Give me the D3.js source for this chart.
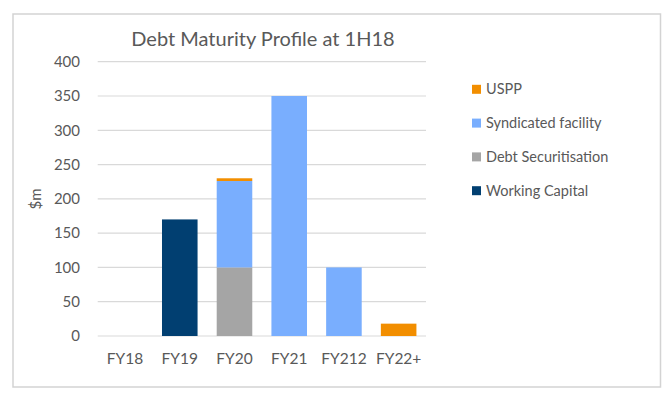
<!DOCTYPE html>
<html>
<head>
<meta charset="utf-8">
<script src="https://cdn.jsdelivr.net/npm/d3@7"></script>
<style>
  html, body { margin: 0; padding: 0; background: #fff; }
  svg { display: block; }
  text { font-family: Lato, "Open Sans", sans-serif; fill: #595959; }
</style>
</head>
<body>
<svg id="chart" width="663" height="394"></svg>
<script>
const categories = ["FY18", "FY19", "FY20", "FY21", "FY212", "FY22+"];
const workingCapital = [0, 170, 0, 0, 0, 0];
const debtSecuritisation = [0, 0, 100, 0, 0, 0];
const syndicatedFacility = [0, 0, 126, 350, 100, 0];
const uspp = [0, 0, 4, 0, 0, 18];
const seriesNames = ["Working Capital", "Debt Securitisation", "Syndicated facility", "USPP"];
const seriesColors = ["#013F71", "#A5A5A5", "#79AEFE", "#F28E00"];
const yTicks = [0, 50, 100, 150, 200, 250, 300, 350, 400];
const titleText = "Debt Maturity Profile at 1H18";
const yLabel = "$m";

(function () {
const seriesValues = [workingCapital, debtSecuritisation, syndicatedFacility, uspp];
const rows = categories.map((c, i) => {
  const r = { cat: c };
  seriesNames.forEach((s, j) => r[s] = seriesValues[j][i]);
  return r;
});
const stacked = d3.stack().keys(seriesNames)(rows);

const svg = d3.select("#chart");
const pLeft = 97.7, pRight = 426, pTop = 61.7, pBottom = 336;

svg.append("rect").attr("x", 13).attr("y", 14).attr("width", 647.5).attr("height", 373)
  .attr("fill", "none").attr("stroke", "#D3D3D3").attr("stroke-width", 1.5);

const x = d3.scaleBand().domain(categories).range([pLeft, pRight]).paddingInner(0.35).paddingOuter(0.175);
const y = d3.scaleLinear().domain([0, 400]).range([pBottom, pTop]);

svg.append("g").selectAll("line").data(yTicks).join("line")
  .attr("x1", pLeft).attr("x2", pRight)
  .attr("y1", d => y(d)).attr("y2", d => y(d))
  .attr("stroke", "#D9D9D9").attr("stroke-width", 1.2);

const yAxis = d3.axisLeft(y).tickValues(yTicks).tickSize(0).tickPadding(0);
const yg = svg.append("g").attr("transform", `translate(80,0)`).call(yAxis);
yg.select(".domain").remove();
yg.selectAll("text").attr("font-size", 15).attr("fill", "#595959").attr("font-family", "Lato, sans-serif");

svg.append("g").selectAll("g").data(stacked).join("g")
  .attr("fill", (d, i) => seriesColors[i])
  .selectAll("rect").data(d => d).join("rect")
  .attr("x", d => x(d.data.cat))
  .attr("width", x.bandwidth())
  .attr("y", d => y(d[1]))
  .attr("height", d => Math.max(0, y(d[0]) - y(d[1])));

const xAxis = d3.axisBottom(x).tickSize(0).tickPadding(0);
const xg = svg.append("g").attr("transform", `translate(0,${pBottom + 17})`).call(xAxis);
xg.select(".domain").remove();
xg.selectAll("text").attr("font-size", 15.5).attr("fill", "#595959").attr("font-family", "Lato, sans-serif");

svg.append("text").attr("x", 263).attr("y", 46).attr("text-anchor", "middle")
  .attr("font-size", 20).text(titleText);

svg.append("text").attr("transform", "translate(41,199) rotate(-90)")
  .attr("text-anchor", "middle").attr("font-size", 15).text(yLabel);

const legendItems = seriesNames.map((n, i) => ({ name: n, color: seriesColors[i] })).reverse();
const lg = svg.append("g").selectAll("g").data(legendItems).join("g")
  .attr("transform", (d, i) => `translate(472,${89.3 + i * 33.8})`);
lg.append("rect").attr("x", 0).attr("y", -4.5).attr("width", 9).attr("height", 9).attr("fill", d => d.color);
lg.append("text").attr("x", 14).attr("y", 0).attr("dy", "0.35em").attr("font-size", 14.5).text(d => d.name);
})();
</script>
</body>
</html>
